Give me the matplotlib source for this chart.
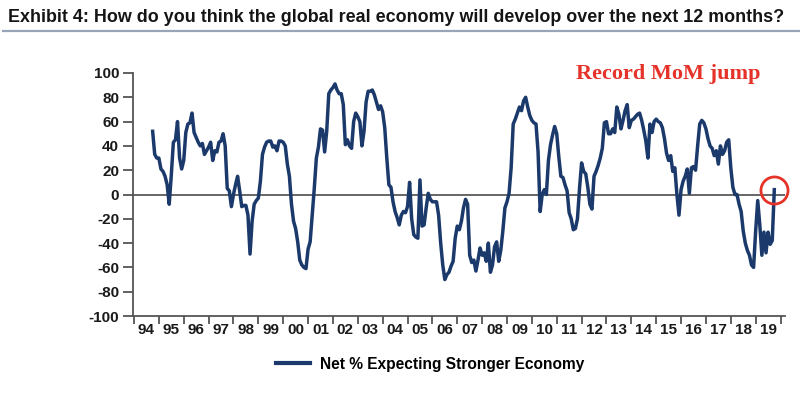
import numpy as np
import pandas as pd
import matplotlib
matplotlib.use("Agg")
from matplotlib import pyplot as plt
from matplotlib.lines import Line2D

plt.rcParams['font.family'] = ['Liberation Sans', 'DejaVu Sans']

# monthly net % expecting a stronger economy, Oct 1994 - Oct 2019
netStronger = [
  52, 33, 30,                                             # 1994 (Oct-Dec)
  30, 21, 19, 15, 8, -8, 16, 43, 45, 60, 30, 21,          # 1995
  28, 51, 58, 59, 67, 51, 47, 43, 40, 42, 33, 36,         # 1996
  39, 43, 28, 36, 35, 43, 44, 50, 40, 5, 3, -10,          # 1997
  0, 8, 15, 3, -10, -9, -9, -17, -49, -22, -8, -5,        # 1998
  -3, 11, 33, 39, 43, 44, 44, 39, 40, 36, 44, 44,         # 1999
  43, 40, 25, 15, -8, -22, -28, -39, -54, -58, -60, -61,  # 2000
  -45, -39, -17, 5, 30, 39, 54, 53, 35, 52, 83, 86,       # 2001
  88, 91, 86, 83, 83, 74, 41, 45, 40, 38, 60, 67,         # 2002
  64, 60, 40, 52, 76, 85, 85, 86, 82, 76, 70, 73,         # 2003
  68, 55, 30, 8, 6, -6, -14, -19, -25, -17, -14, -15,     # 2004
  -10, 10, -20, -33, -35, -36, 12, -26, -25, -11, 1, -4,  # 2005
  -6, -6, -6, -17, -40, -58, -70, -66, -64, -59, -55, -36,  # 2006
  -26, -29, -22, -11, -4, -8, -50, -56, -54, -63, -54, -44,  # 2007
  -50, -48, -55, -40, -64, -58, -43, -39, -55, -46, -30, -11,  # 2008
  -6, 1, 22, 58, 62, 67, 72, 69, 77, 80, 72, 65,          # 2009
  61, 59, 58, 35, -14, 0, 4, 0, 28, 41, 49, 56,           # 2010
  50, 31, 15, 14, 8, 3, -15, -20, -29, -28, -20, 5,       # 2011
  26, 19, 17, 6, -8, -12, 15, 19, 24, 30, 38, 59,         # 2012
  60, 50, 50, 54, 51, 72, 66, 54, 61, 69, 74, 55,         # 2013
  61, 62, 64, 66, 67, 61, 53, 44, 30, 58, 51, 60,         # 2014
  62, 60, 59, 55, 46, 34, 28, 32, 19, 22, 0, -17,         # 2015
  4, 11, 15, 21, 1, 22, 23, 20, 40, 58, 61, 59,           # 2016
  54, 46, 40, 38, 32, 36, 25, 40, 33, 36, 43, 45,         # 2017
  22, 6, 0, 0, -8, -14, -30, -40, -46, -50, -58, -60,     # 2018
  -30, -5, -25, -50, -31, -48, -31, -41, -38, 4,          # 2019 (Jan-Oct)
]
startMonth = "1994-10"
yearLabels = ["94", "95", "96", "97", "98", "99", "00", "01", "02", "03", "04",
              "05", "06", "07", "08", "09", "10", "11", "12", "13", "14", "15",
              "16", "17", "18", "19"]
yTicks = [-100, -80, -60, -40, -20, 0, 20, 40, 60, 80, 100]

navy = "#1b3a6b"
axisGrey = "#555555"

months = pd.date_range(startMonth, periods=len(netStronger), freq="MS")
xs = months.year + (months.month - 1) / 12.0

fig = plt.figure(figsize=(8, 3.93), dpi=100)

fig.text(0.01, 1 - 18 / 393, "Exhibit 4: How do you think the global real economy will develop over the next 12 months?",
         fontsize=12.9, fontweight="bold", color="#151515", ha="left", va="center")
fig.add_artist(Line2D([0.004, 1.0], [1 - 30.5 / 393] * 2, transform=fig.transFigure,
                      color="#98a5b8", lw=1.6))

ax = fig.add_axes([133 / 800, 1 - 316 / 393, (785 - 133) / 800, (316 - 73) / 393])
ax.axhline(0, color="#666666", lw=1.4, zorder=1)
line, = ax.plot(xs, netStronger, color=navy, lw=2.5, zorder=3, solid_joinstyle="round")
# highlight the latest reading
ax.plot(xs[-1], netStronger[-1], marker="o", markersize=19.5, mfc="none", mec="#e5332a", mew=2,
        zorder=4, clip_on=False)

ax.text(2015.49, 98.8, "Record MoM jump", family=["Liberation Serif", "DejaVu Serif"], fontsize=16,
        fontweight="bold", color="#e5332a", ha="center", va="center")

ax.set_xlim(1993.96, 2020.18)
ax.set_ylim(-100, 100)
for s in ["top", "right"]:
  ax.spines[s].set_visible(False)
for s in ["left", "bottom"]:
  ax.spines[s].set_color(axisGrey)
  ax.spines[s].set_linewidth(1.3)

ax.set_yticks(yTicks)
ax.set_yticklabels([str(v) for v in yTicks])
years = list(range(1994, 2021))
ax.set_xticks(years)
ax.set_xticklabels([])
ax.set_xticks([y + 0.5 for y in range(1994, 2020)], minor=True)
ax.set_xticklabels(yearLabels, minor=True)
ax.tick_params(axis="y", length=7, width=1.3, color=axisGrey, pad=3, labelsize=11)
ax.tick_params(axis="x", which="major", length=6, width=1.3, color=axisGrey)
ax.tick_params(axis="x", which="minor", length=0, pad=5, labelsize=11)
for lbl in ax.get_yticklabels() + ax.get_xticklabels(minor=True):
  lbl.set_fontweight("bold")
  lbl.set_color("#1a1a1a")

fig.legend([Line2D([], [], color=navy, lw=3)], ["Net % Expecting Stronger Economy"],
           loc="center", bbox_to_anchor=(430 / 800, 1 - 364 / 393), frameon=False,
           handlelength=2.2, handletextpad=0.6,
           prop={"weight": "bold", "size": 11.2})

fig.savefig("out.png", dpi=100)
